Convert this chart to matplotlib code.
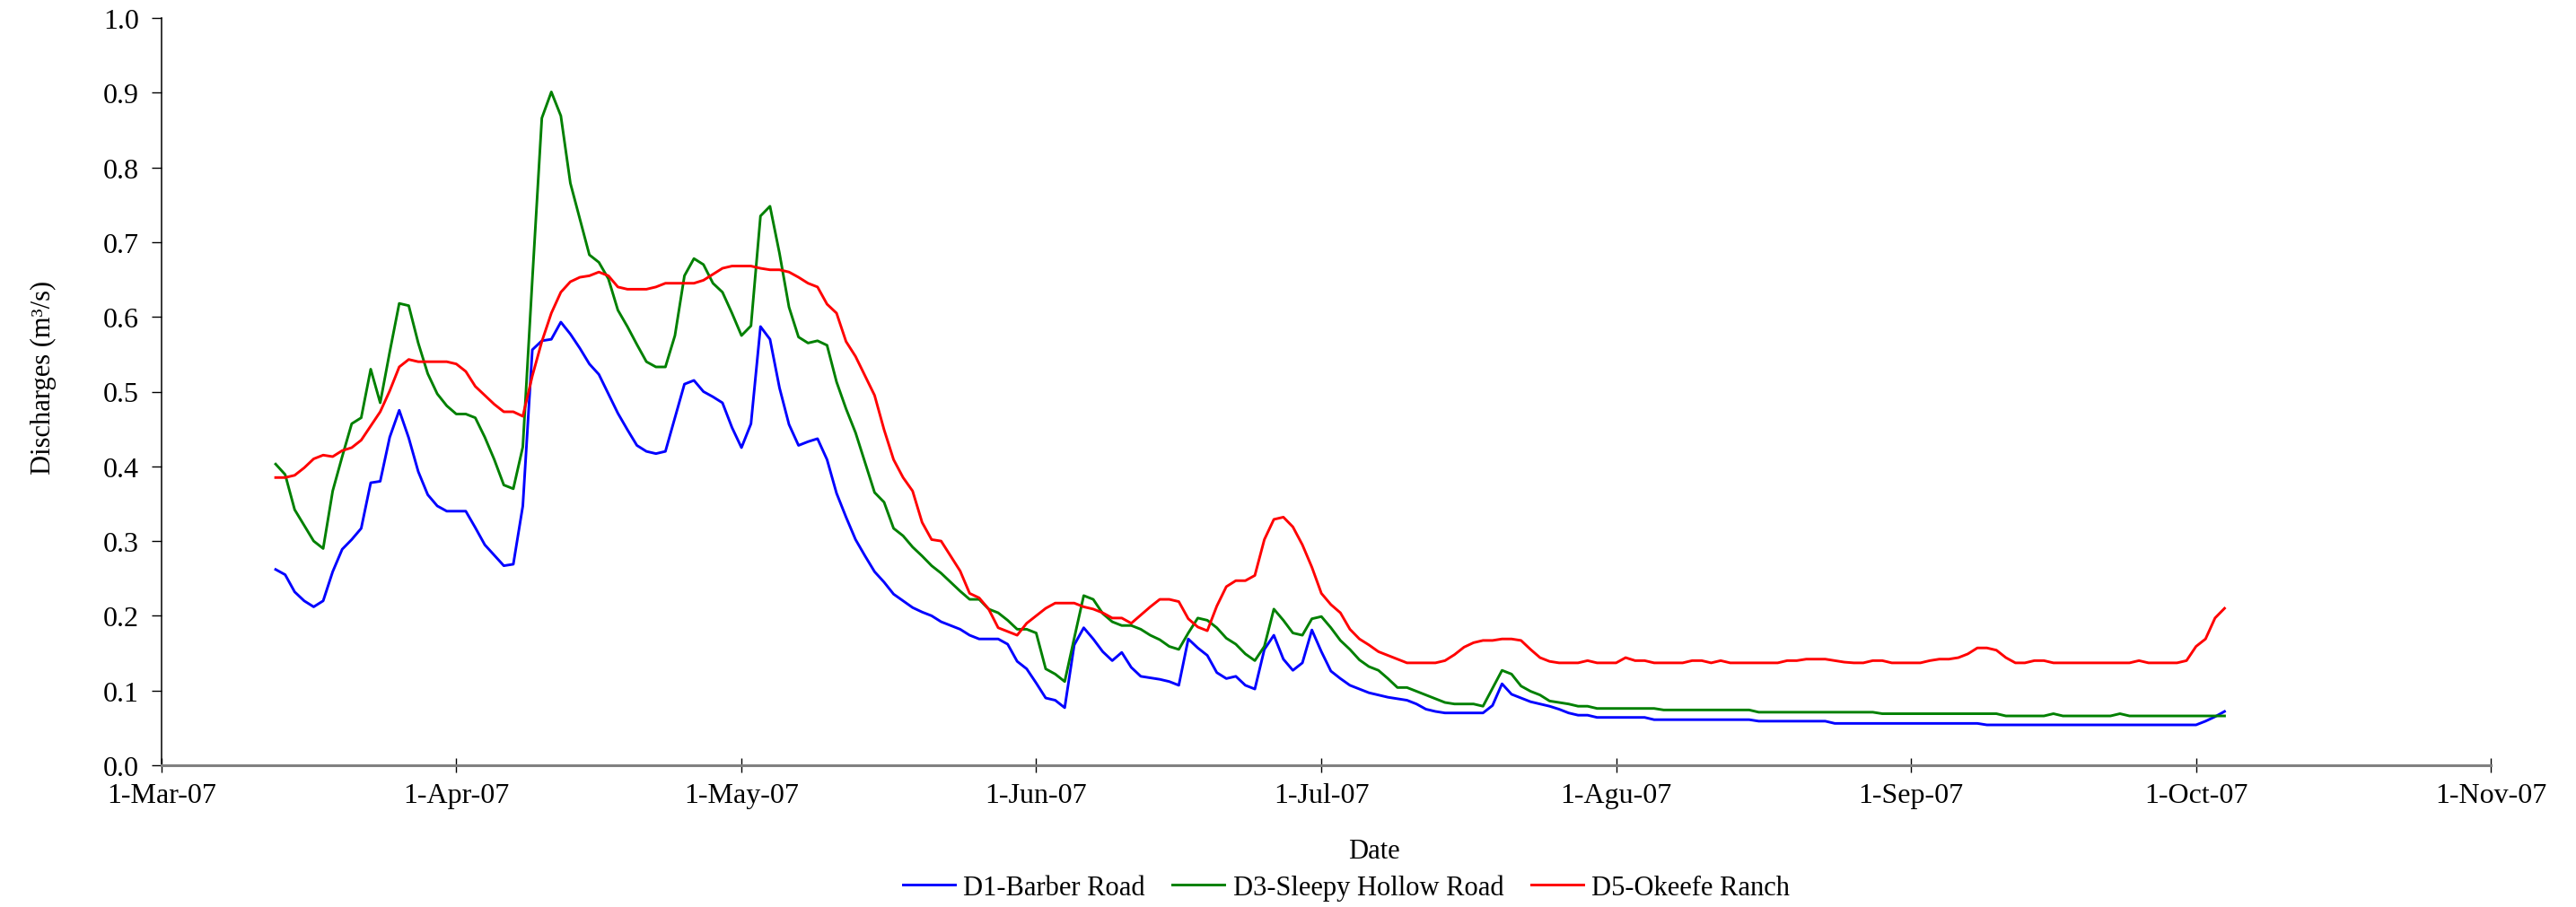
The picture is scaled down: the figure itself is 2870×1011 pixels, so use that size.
import numpy as np
import matplotlib
matplotlib.use('Agg')
import matplotlib.pyplot as plt

# premier jour de mesure, ensuite une valeur par jour
debut = np.datetime64('2007-03-13')

d1_barber = [0.262, 0.255, 0.232, 0.220, 0.212, 0.220, 0.259, 0.289, 0.302, 0.317,
             0.378, 0.380, 0.439, 0.475, 0.438, 0.393, 0.362, 0.347, 0.340, 0.340,
             0.340, 0.318, 0.295, 0.281, 0.267, 0.269, 0.347, 0.556, 0.568, 0.570,
             0.593, 0.577, 0.558, 0.537, 0.523, 0.497, 0.471, 0.449, 0.428, 0.420,
             0.417, 0.420, 0.465, 0.510, 0.515, 0.500, 0.493, 0.485, 0.452, 0.425,
             0.457, 0.587, 0.570, 0.505, 0.456, 0.428, 0.433, 0.437, 0.409, 0.364,
             0.332, 0.302, 0.280, 0.259, 0.245, 0.229, 0.220, 0.211, 0.205, 0.200,
             0.192, 0.187, 0.182, 0.174, 0.169, 0.169, 0.169, 0.162, 0.139, 0.129,
             0.110, 0.090, 0.087, 0.077, 0.161, 0.184, 0.169, 0.152, 0.140, 0.151,
             0.131, 0.119, 0.117, 0.115, 0.112, 0.107, 0.169, 0.157, 0.147, 0.124,
             0.116, 0.119, 0.107, 0.102, 0.155, 0.174, 0.142, 0.127, 0.137, 0.181,
             0.152, 0.126, 0.116, 0.107, 0.102, 0.097, 0.094, 0.091, 0.089, 0.087,
             0.082, 0.075, 0.072, 0.070, 0.070, 0.070, 0.070, 0.070, 0.080, 0.109,
             0.095, 0.090, 0.085, 0.082, 0.079, 0.075, 0.070, 0.067, 0.067, 0.064,
             0.064, 0.064, 0.064, 0.064, 0.064, 0.061, 0.061, 0.061, 0.061, 0.061,
             0.061, 0.061, 0.061, 0.061, 0.061, 0.061, 0.059, 0.059, 0.059, 0.059,
             0.059, 0.059, 0.059, 0.059, 0.056, 0.056, 0.056, 0.056, 0.056, 0.056,
             0.056, 0.056, 0.056, 0.056, 0.056, 0.056, 0.056, 0.056, 0.056, 0.056,
             0.054, 0.054, 0.054, 0.054, 0.054, 0.054, 0.054, 0.054, 0.054, 0.054,
             0.054, 0.054, 0.054, 0.054, 0.054, 0.054, 0.054, 0.054, 0.054, 0.054,
             0.054, 0.054, 0.054, 0.059, 0.065, 0.072]

d3_sleepy = [0.403, 0.389, 0.342, 0.321, 0.300, 0.290, 0.367, 0.413, 0.457, 0.465,
             0.530, 0.485, 0.553, 0.618, 0.615, 0.565, 0.524, 0.497, 0.481, 0.470,
             0.470, 0.465, 0.439, 0.409, 0.375, 0.370, 0.426, 0.650, 0.866, 0.901,
             0.869, 0.779, 0.731, 0.683, 0.673, 0.651, 0.609, 0.587, 0.563, 0.540,
             0.533, 0.533, 0.575, 0.655, 0.678, 0.670, 0.645, 0.633, 0.605, 0.575,
             0.588, 0.735, 0.748, 0.685, 0.613, 0.573, 0.565, 0.568, 0.562, 0.513,
             0.477, 0.445, 0.405, 0.365, 0.352, 0.317, 0.307, 0.292, 0.280, 0.267,
             0.257, 0.245, 0.233, 0.222, 0.222, 0.209, 0.204, 0.194, 0.182, 0.182,
             0.177, 0.129, 0.122, 0.112, 0.170, 0.227, 0.222, 0.203, 0.192, 0.187,
             0.187, 0.182, 0.174, 0.168, 0.159, 0.155, 0.177, 0.197, 0.194, 0.184,
             0.170, 0.162, 0.149, 0.140, 0.159, 0.209, 0.194, 0.177, 0.174, 0.196,
             0.199, 0.184, 0.167, 0.155, 0.141, 0.132, 0.127, 0.116, 0.104, 0.104,
             0.099, 0.094, 0.089, 0.084, 0.082, 0.082, 0.082, 0.079, 0.103, 0.127,
             0.122, 0.106, 0.099, 0.094, 0.086, 0.084, 0.082, 0.079, 0.079, 0.076,
             0.076, 0.076, 0.076, 0.076, 0.076, 0.076, 0.074, 0.074, 0.074, 0.074,
             0.074, 0.074, 0.074, 0.074, 0.074, 0.074, 0.071, 0.071, 0.071, 0.071,
             0.071, 0.071, 0.071, 0.071, 0.071, 0.071, 0.071, 0.071, 0.071, 0.069,
             0.069, 0.069, 0.069, 0.069, 0.069, 0.069, 0.069, 0.069, 0.069, 0.069,
             0.069, 0.069, 0.066, 0.066, 0.066, 0.066, 0.066, 0.069, 0.066, 0.066,
             0.066, 0.066, 0.066, 0.066, 0.069, 0.066, 0.066, 0.066, 0.066, 0.066,
             0.066, 0.066, 0.066, 0.066, 0.066, 0.066]

d5_okeefe = [0.385, 0.385, 0.388, 0.398, 0.410, 0.415, 0.413, 0.421, 0.425, 0.435,
             0.454, 0.473, 0.501, 0.533, 0.543, 0.540, 0.540, 0.540, 0.540, 0.537,
             0.527, 0.507, 0.495, 0.483, 0.473, 0.473, 0.467, 0.521, 0.567, 0.605,
             0.633, 0.647, 0.653, 0.655, 0.660, 0.655, 0.640, 0.637, 0.637, 0.637,
             0.640, 0.645, 0.645, 0.645, 0.645, 0.649, 0.657, 0.665, 0.668, 0.668,
             0.668, 0.665, 0.663, 0.663, 0.660, 0.653, 0.645, 0.640, 0.617, 0.605,
             0.567, 0.547, 0.521, 0.495, 0.449, 0.409, 0.385, 0.367, 0.325, 0.302,
             0.300, 0.280, 0.260, 0.230, 0.224, 0.209, 0.184, 0.179, 0.174, 0.190,
             0.200, 0.210, 0.217, 0.217, 0.217, 0.212, 0.209, 0.204, 0.197, 0.197,
             0.190, 0.201, 0.212, 0.222, 0.222, 0.219, 0.196, 0.185, 0.180, 0.213,
             0.239, 0.247, 0.247, 0.254, 0.302, 0.329, 0.332, 0.319, 0.295, 0.265,
             0.230, 0.215, 0.204, 0.182, 0.169, 0.161, 0.152, 0.147, 0.142, 0.137,
             0.137, 0.137, 0.137, 0.140, 0.148, 0.158, 0.164, 0.167, 0.167, 0.169,
             0.169, 0.167, 0.155, 0.144, 0.139, 0.137, 0.137, 0.137, 0.140, 0.137,
             0.137, 0.137, 0.144, 0.140, 0.140, 0.137, 0.137, 0.137, 0.137, 0.140,
             0.140, 0.137, 0.140, 0.137, 0.137, 0.137, 0.137, 0.137, 0.137, 0.140,
             0.140, 0.142, 0.142, 0.142, 0.140, 0.138, 0.137, 0.137, 0.140, 0.140,
             0.137, 0.137, 0.137, 0.137, 0.140, 0.142, 0.142, 0.144, 0.149, 0.157,
             0.157, 0.154, 0.144, 0.137, 0.137, 0.140, 0.140, 0.137, 0.137, 0.137,
             0.137, 0.137, 0.137, 0.137, 0.137, 0.137, 0.140, 0.137, 0.137, 0.137,
             0.137, 0.140, 0.159, 0.169, 0.197, 0.210]

series = ["D1-Barber Road", "D3-Sleepy Hollow Road", "D5-Okeefe Ranch"]
couleurs = ['#0000ff', '#008000', '#ff0000']

tick_dates = ['2007-03-01', '2007-04-01', '2007-05-01', '2007-06-01', '2007-07-01',
              '2007-08-01', '2007-09-01', '2007-10-01', '2007-11-01']
tick_labels = ['1-Mar-07', '1-Apr-07', '1-May-07', '1-Jun-07', '1-Jul-07',
               '1-Agu-07', '1-Sep-07', '1-Oct-07', '1-Nov-07']

plt.rcParams['font.family'] = ['Liberation Serif', 'DejaVu Serif']

fig = plt.figure(figsize=(28.7, 10.12), dpi=100)
ax = fig.add_axes([180/2870, 1 - 854/1012, (2775 - 180)/2870, (854 - 21)/1012])

jours = debut + np.arange(len(d1_barber))
dates = jours.astype('datetime64[D]').astype(object)

for valeurs, nom, c in zip([d1_barber, d3_sleepy, d5_okeefe], series, couleurs):
    ax.plot(dates, valeurs, color=c, lw=2.1, label=nom)

ax.set_xlim(np.datetime64('2007-03-01').astype(object), np.datetime64('2007-11-01').astype(object))
ax.set_ylim(0, 1.0)

ax.set_xticks([np.datetime64(d).astype(object) for d in tick_dates])
ax.set_xticklabels(tick_labels)
ax.set_yticks(np.arange(0, 1.01, 0.1))
ax.set_yticklabels(['%.1f' % v for v in np.arange(0, 1.01, 0.1)])

# axes facon Excel
ax.spines['top'].set_visible(False)
ax.spines['right'].set_visible(False)
ax.spines['left'].set_linewidth(1.1)
ax.spines['bottom'].set_color('#808080')
ax.spines['bottom'].set_linewidth(2.2)
ax.tick_params(axis='y', direction='out', length=8, width=1.0, labelsize=23, pad=10)
ax.tick_params(axis='x', direction='inout', length=12, width=1.0, labelsize=23, pad=8)

ax.set_xlabel('Date', fontsize=22)
ax.xaxis.set_label_coords((1531 - 180)/(2775 - 180), -0.097)
ax.set_ylabel('Discharges (m³/s)', fontsize=22)
ax.yaxis.set_label_coords(-0.045, 0.52)

fig.legend(loc='center', bbox_to_anchor=(1500/2870, 1 - 990/1012), ncol=3, frameon=False,
           fontsize=22, handlelength=1.9, handletextpad=0.3, columnspacing=1.0)

fig.savefig('out.png', dpi=100)
